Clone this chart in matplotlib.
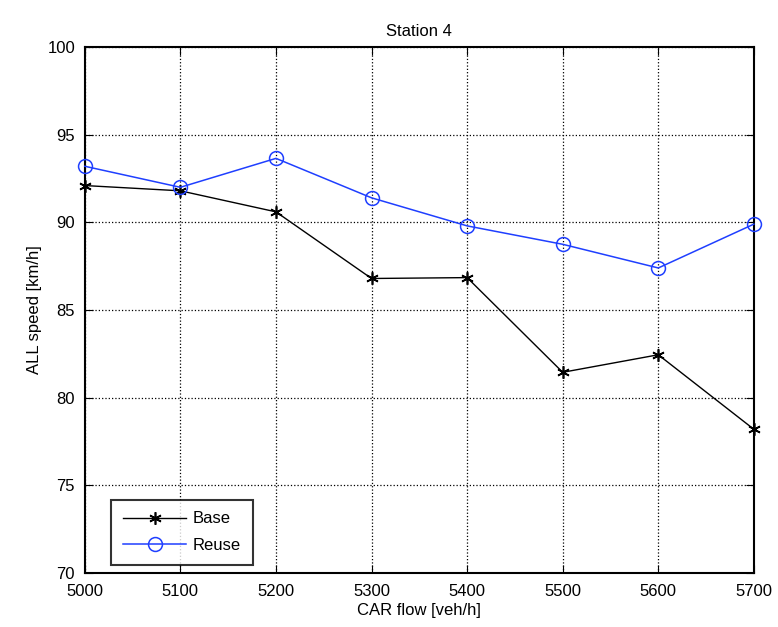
import matplotlib
matplotlib.use('Agg')
import matplotlib.pyplot as plt

plt.rcParams['font.family'] = ['Liberation Sans', 'DejaVu Sans']

flow = [5000, 5100, 5200, 5300, 5400, 5500, 5600, 5700]
base = [92.1, 91.8, 90.6, 86.8, 86.85, 81.45, 82.45, 78.2]
reuse = [93.2, 92.0, 93.65, 91.4, 89.8, 88.75, 87.4, 89.9]

fig = plt.figure(figsize=(7.78, 6.27), dpi=100)
ax = fig.add_axes([0.109, 0.086, 0.86, 0.839])

ax.plot(flow, base, color='black', marker=(6, 2, 0), markersize=9, markeredgewidth=1.2,
        linewidth=1, label='Base', clip_on=False, zorder=3)
ax.plot(flow, reuse, color='#1f3fff', marker='o', markersize=10, markerfacecolor='none',
        markeredgewidth=1.1, linewidth=1.1, label='Reuse', clip_on=False, zorder=3)

ax.set_xlim(5000, 5700)
ax.set_ylim(70, 100)
ax.set_xticks(flow)
ax.set_yticks(range(70, 101, 5))
ax.tick_params(direction='in', top=True, right=True, labelsize=12, length=6)
ax.tick_params(axis='x', pad=8)
ax.tick_params(axis='y', pad=7)
ax.grid(True, linestyle=':', color='black', linewidth=0.9)
for s in ax.spines.values():
    s.set_linewidth(1.5)

ax.set_xlabel('CAR flow [veh/h]', fontsize=12, labelpad=3)
ax.set_ylabel('ALL speed [km/h]', fontsize=12)
ax.set_title('Station 4', fontsize=12, pad=8)

leg = ax.legend(loc='lower left', bbox_to_anchor=(0.027, 0.0), fancybox=False,
                edgecolor='black', fontsize=12, handlelength=3.8, borderpad=0.7,
                labelspacing=0.7, handletextpad=0.4)
leg.get_frame().set_linewidth(1.5)

fig.savefig('out.png', dpi=100)
